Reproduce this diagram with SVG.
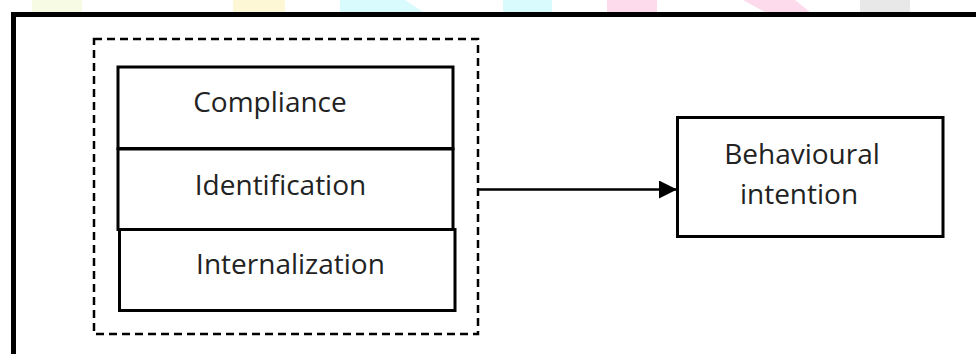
<svg xmlns="http://www.w3.org/2000/svg" width="976" height="354" viewBox="0 0 976 354">
<style>
.box{fill:#fff;stroke:#000;stroke-width:3}
.lbl{font-family:"Open Sans","Noto Sans","Liberation Sans",sans-serif;font-size:28px;fill:#222;text-anchor:middle}
.frame{fill:#fff;stroke:#000;stroke-width:5}
.group{fill:none;stroke:#000;stroke-width:2.5;stroke-dasharray:8 5}
.conn{fill:none;stroke:#000;stroke-width:2.5}
</style>
<defs>
<marker id="arr" markerWidth="20" markerHeight="20" refX="18" refY="9" orient="auto" markerUnits="userSpaceOnUse">
<path d="M0,0 L18,9 L0,18 Z" fill="#000"/>
</marker>
</defs>
<rect width="976" height="354" fill="#fff"/>
<g id="watermark" opacity="0.9">
<rect x="32" y="0" width="50" height="12" fill="#f8fbe0"/>
<rect x="233" y="0" width="52" height="12" fill="#fdf7d2"/>
<path d="M340,0 L405,0 L423,12 L340,12 Z" fill="#d6fbfd"/>
<rect x="503" y="0" width="49" height="12" fill="#d6fbfd"/>
<rect x="607" y="0" width="50" height="12" fill="#fdd6ea"/>
<path d="M743,0 L795,0 L810,12 L765,12 Z" fill="#fdd6ea"/>
<rect x="860" y="0" width="50" height="12" fill="#e6e6e6"/>
</g>
<rect class="frame" x="13.5" y="14.5" width="980" height="360"/>
<g id="group-box">
<rect class="group" x="94" y="39" width="384" height="295"/>
</g>
<g id="compliance">
<rect class="box" x="118" y="67" width="335" height="81.5"/>
<text class="lbl" x="270" y="111.5">Compliance</text>
</g>
<g id="identification">
<rect class="box" x="118" y="149" width="335" height="80.5"/>
<text class="lbl" x="280.5" y="195">Identification</text>
</g>
<g id="internalization">
<rect class="box" x="119.5" y="229.5" width="335.5" height="81"/>
<text class="lbl" x="290.5" y="274">Internalization</text>
</g>
<g id="behavioural-intention">
<rect class="box" x="677.5" y="117.5" width="265.5" height="119"/>
<text class="lbl" x="802" y="163.5">Behavioural</text>
<text class="lbl" x="799" y="204">intention</text>
</g>
<g id="connectors">
<line class="conn" x1="478" y1="189.5" x2="677" y2="189.5" marker-end="url(#arr)"/>
</g>
</svg>
